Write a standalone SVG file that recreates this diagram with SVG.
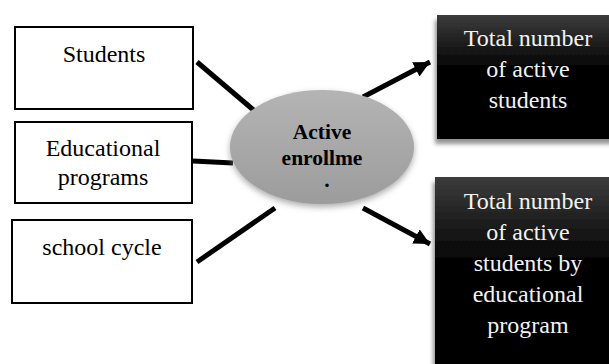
<svg xmlns="http://www.w3.org/2000/svg" width="609" height="364" viewBox="0 0 609 364">
<style>
.box{fill:#fff;stroke:#000;stroke-width:2}
.t{font-family:'Liberation Serif','Times New Roman',serif;font-size:24px;text-anchor:middle;fill:#000}
.w{fill:#f2f2f2}
.b{font-weight:bold;font-size:21.5px}
.ln{stroke:#000;stroke-width:5;fill:none}
.dark{fill:url(#dg);filter:url(#sh)}
</style>
<defs>
<linearGradient id="dg" x1="0" y1="0" x2="0" y2="1">
<stop offset="0" stop-color="#3c3c3c"/>
<stop offset="0.45" stop-color="#000"/>
<stop offset="1" stop-color="#000"/>
</linearGradient>
<linearGradient id="eg" x1="0" y1="0" x2="0" y2="1">
<stop offset="0" stop-color="#b4b4b4"/>
<stop offset="1" stop-color="#9c9c9c"/>
</linearGradient>
<filter id="sh" x="-10%" y="-10%" width="120%" height="130%">
<feDropShadow dx="-2" dy="5" stdDeviation="2" flood-color="#777" flood-opacity="0.8"/>
</filter>
<filter id="glow" x="-10%" y="-15%" width="120%" height="135%">
<feDropShadow dx="0" dy="3" stdDeviation="3" flood-color="#888" flood-opacity="0.7"/>
</filter>
<marker id="ah" markerUnits="userSpaceOnUse" markerWidth="20" markerHeight="20" refX="16" refY="8" orient="auto">
<path d="M0,0 L16,8 L0,16 Z" fill="#000"/>
</marker>
</defs>

<g id="connectors">
<line class="ln" x1="197" y1="62" x2="257" y2="113"/>
<line class="ln" x1="193" y1="161" x2="233" y2="163"/>
<line class="ln" x1="197" y1="262" x2="275" y2="208"/>
<line class="ln" x1="363" y1="97" x2="430" y2="62" marker-end="url(#ah)"/>
<line class="ln" x1="363" y1="208" x2="430" y2="244" marker-end="url(#ah)"/>
</g>

<g id="students">
<rect class="box" x="15" y="27" width="178" height="82"/>
<text class="t" x="104" y="62">Students</text>
</g>
<g id="programs">
<rect class="box" x="15" y="122" width="177" height="81"/>
<text class="t" x="103" y="156">Educational</text>
<text class="t" x="103" y="185">programs</text>
</g>
<g id="cycle">
<rect class="box" x="12" y="220" width="180" height="83"/>
<text class="t" x="102" y="255">school cycle</text>
</g>

<g id="enrollment">
<ellipse cx="322" cy="147" rx="92" ry="57" fill="url(#eg)" filter="url(#glow)"/>
<text class="t b" x="322" y="139">Active</text>
<text class="t b" x="322" y="165">enrollme</text>
<text class="t b" x="327" y="187" font-size="8">.</text>
</g>

<g id="total-active">
<rect class="dark" x="437" y="15" width="180" height="124"/>
<text class="t w" x="528" y="46">Total number</text>
<text class="t w" x="528" y="77">of active</text>
<text class="t w" x="528" y="108">students</text>
</g>

<g id="total-by-program">
<rect class="dark" x="435" y="177" width="182" height="200"/>
<text class="t w" x="528" y="209">Total number</text>
<text class="t w" x="528" y="240">of active</text>
<text class="t w" x="528" y="271">students by</text>
<text class="t w" x="528" y="302">educational</text>
<text class="t w" x="528" y="333">program</text>
</g>
</svg>
